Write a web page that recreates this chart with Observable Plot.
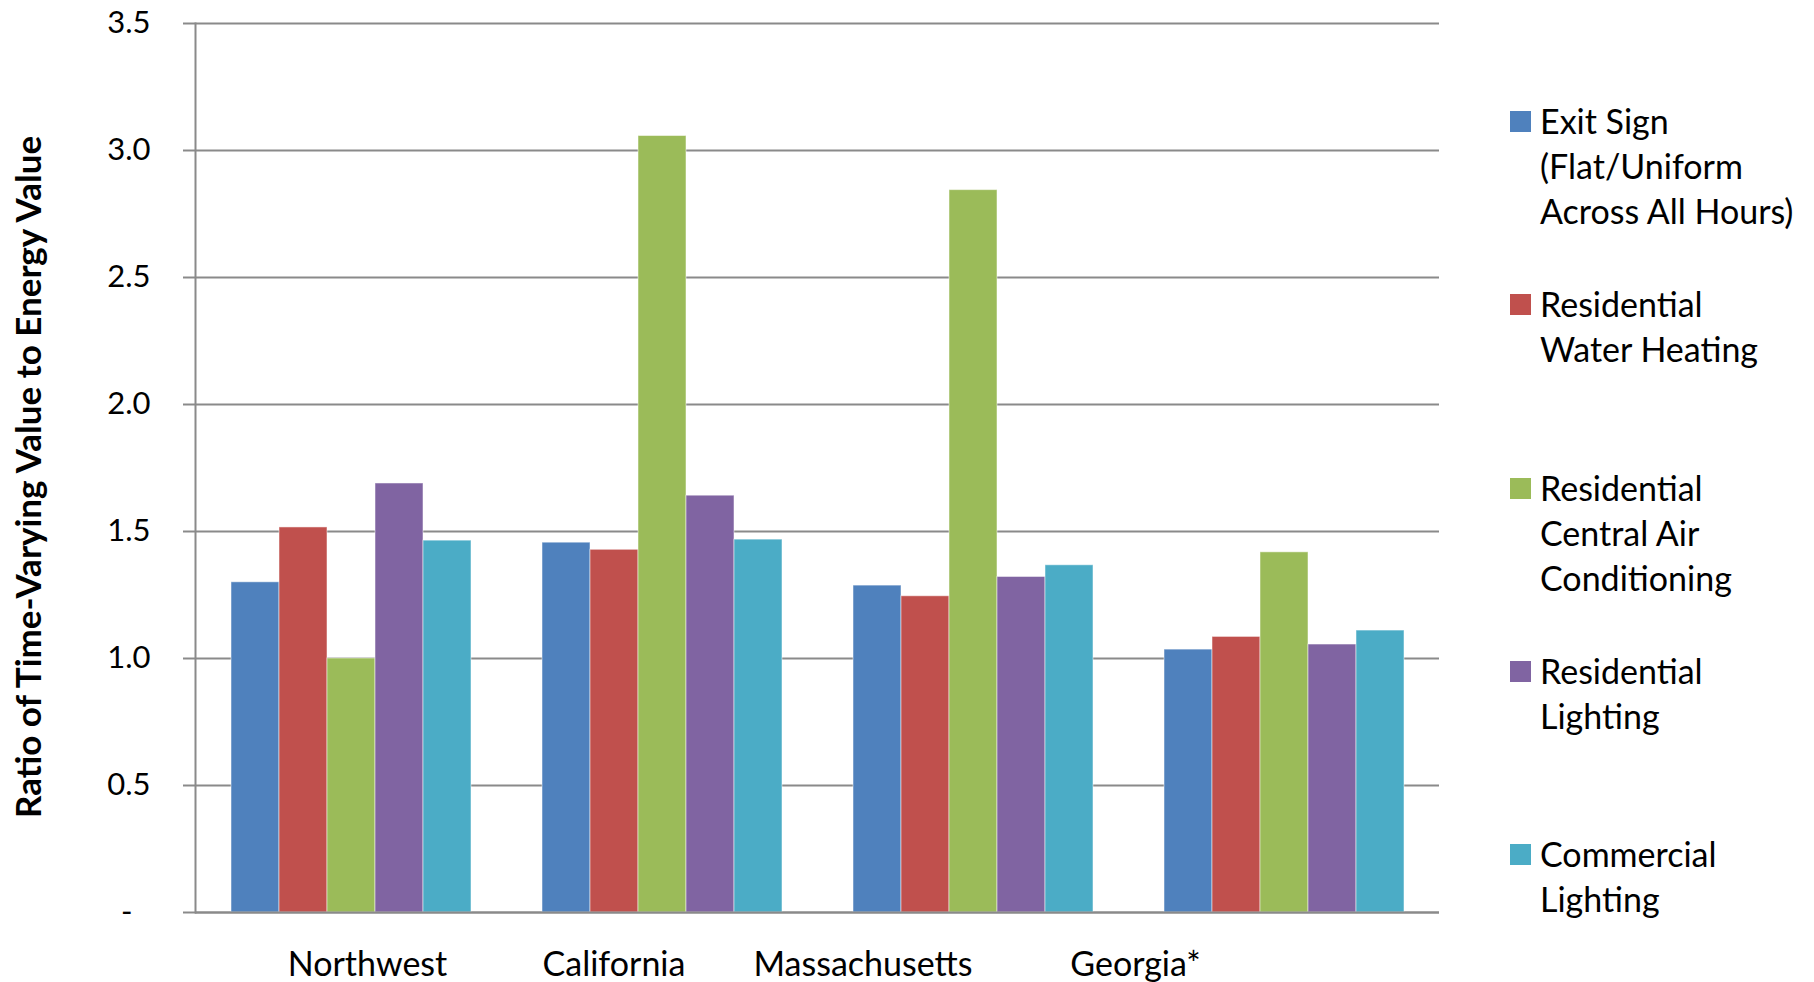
<!DOCTYPE html>
<html>
<head>
<meta charset="utf-8">
<script src="https://cdn.jsdelivr.net/npm/d3@7"></script>
<script src="https://cdn.jsdelivr.net/npm/@observablehq/plot@0.6"></script>
<style>
  html, body { margin: 0; padding: 0; background: #fff; }
  #wrap { position: relative; width: 1814px; height: 982px; overflow: hidden; }
  #chart { position: absolute; left: 0; top: 0; }
  #legend { position: absolute; left: 1510px; top: 98px; font-family: Lato, "Open Sans", sans-serif; font-size: 34px; line-height: 45px; color: #000; }
  .item { position: relative; height: 183.3px; padding-left: 30px; }
  .sw { position: absolute; left: 0; top: 13px; width: 21px; height: 21px; }
</style>
</head>
<body>
<div id="wrap">
  <div id="chart"></div>
  <div id="legend"></div>
</div>
<script>
// ---- data ----
const regions = ["Northwest", "California", "Massachusetts", "Georgia*"];
const seriesNames = [
  "Exit Sign (Flat/Uniform Across All Hours)",
  "Residential Water Heating",
  "Residential Central Air Conditioning",
  "Residential Lighting",
  "Commercial Lighting"
];
const legendLines = [
  ["Exit Sign", "(Flat/Uniform", "Across All Hours)"],
  ["Residential", "Water Heating"],
  ["Residential", "Central Air", "Conditioning"],
  ["Residential", "Lighting"],
  ["Commercial", "Lighting"]
];
const yLabel = "Ratio of Time-Varying Value to Energy Value";
const exitSign     = [1.30, 1.456, 1.287, 1.035];
const waterHeating = [1.516, 1.428, 1.245, 1.085];
const centralAir   = [1.00, 3.057, 2.844, 1.418];
const resLighting  = [1.689, 1.641, 1.321, 1.055];
const comLighting  = [1.464, 1.468, 1.367, 1.110];
const yTicks = [0, 0.5, 1.0, 1.5, 2.0, 2.5, 3.0, 3.5];
const colors = ["#4F81BD", "#C0504D", "#9BBB59", "#8064A2", "#4BACC6"];

const seriesValues = [exitSign, waterHeating, centralAir, resLighting, comLighting];
const table = [];
regions.forEach((r, i) => seriesNames.forEach((s, j) => table.push({region: r, series: s, value: seriesValues[j][i]})));

// label placement offsets (the original places category labels off-centre)
const labelShift = [16.5, -48, -110, -148.5];

const font = "Lato, 'Open Sans', sans-serif";
const grid = "#8a8a8a";

const plot = Plot.plot({
  width: 1814,
  height: 982,
  marginLeft: 195,
  marginRight: 375,
  marginTop: 23,
  marginBottom: 70,
  style: {fontFamily: font, color: "#000", background: "white", overflow: "visible"},
  fx: {domain: regions, padding: 0, label: null, axis: null},
  x: {domain: seriesNames, paddingInner: 0, paddingOuter: 0.72, axis: null},
  y: {domain: [0, 3.5]},
  color: {domain: seriesNames, range: colors},
  marks: [
    Plot.gridY(yTicks, {stroke: grid, strokeOpacity: 1, strokeWidth: 2}),
    Plot.barY(table, {fx: "region", x: "series", y: "value", fill: "series", stroke: "white", strokeOpacity: 0.5, strokeWidth: 1}),
    Plot.ruleY([0], {stroke: grid, strokeWidth: 2}),
    Plot.frame({anchor: "left", facetAnchor: "left", stroke: grid, strokeWidth: 2}),
    Plot.axisY(yTicks, {
      tickSize: 12, tickPadding: 33, stroke: grid, strokeWidth: 2,
      tickFormat: d => d === 0 ? "-\u2007" : d.toFixed(1),
      fontSize: 31, label: null
    }),
    Plot.text([yLabel], {
      facet: "super", frameAnchor: "left", textAnchor: "middle", rotate: -90, lineAnchor: "middle",
      dx: -166, dy: 9, fontSize: 35, fontWeight: "bold", fill: "#000"
    }),
    ...regions.map((r, i) => Plot.text([r], {
      fx: d => d, text: d => d, frameAnchor: "bottom", lineAnchor: "middle",
      dy: 53, dx: labelShift[i], fontSize: 34, fill: "#000"
    }))
  ]
});
document.getElementById("chart").appendChild(plot);

const legend = document.getElementById("legend");
seriesNames.forEach((s, j) => {
  const item = document.createElement("div");
  item.className = "item";
  const sw = document.createElement("div");
  sw.className = "sw";
  sw.style.background = colors[j];
  item.appendChild(sw);
  legendLines[j].forEach(line => {
    const d = document.createElement("div");
    d.textContent = line;
    item.appendChild(d);
  });
  legend.appendChild(item);
});
</script>
</body>
</html>
